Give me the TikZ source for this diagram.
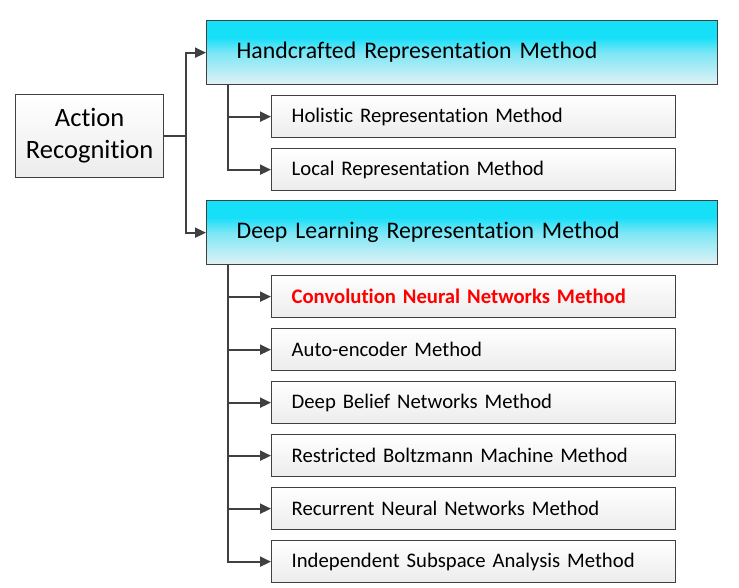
\documentclass[tikz,border=0pt]{standalone}
\usepackage{fontspec}
\setmainfont{Carlito}[Ligatures=NoCommon]
\usetikzlibrary{arrows.meta,calc}
\definecolor{edge}{HTML}{404040}
\definecolor{hdrtop}{HTML}{16DFF8}
\definecolor{hdrmid}{HTML}{7CE6F5}
\definecolor{hdrbot}{HTML}{E2F2F5}
\definecolor{subbot}{HTML}{ECECEC}
\definecolor{redtxt}{HTML}{FF0000}
\pgfdeclareverticalshading{hdrshade}{100bp}{color(0bp)=(hdrbot); color(25bp)=(hdrbot); color(50bp)=(hdrmid); color(62bp)=(hdrtop); color(75bp)=(hdrtop); color(100bp)=(hdrtop)}
\begin{document}
\begin{tikzpicture}[x=1pt,y=-1pt,
  box/.style={draw=edge,line width=1.3pt,anchor=north west,inner ysep=0pt},
  hdr/.style={box,shading=hdrshade,minimum height=64pt,inner xsep=30pt,text width=451pt,align=left,font=\fontsize{23.8}{28}\selectfont},
  sub/.style={box,top color=white,bottom color=subbot,minimum height=42pt,inner xsep=20pt,text width=364pt,align=left,font=\fontsize{20.7}{24}\selectfont},
  root/.style={box,top color=white,bottom color=subbot,minimum width=148pt,minimum height=83pt,align=center,font=\fontsize{26.5}{32}\selectfont},
  conn/.style={draw=edge,line width=2pt},
  arr/.style={conn,-{Triangle[length=11pt,width=10pt]}}]
\useasboundingbox (0,0) rectangle (739,588);
\node[root] (act) at (15,94) {Action\\Recognition};
\node[hdr] (hc) at (206,20) {Handcrafted Representation Method};
\node[sub] (hol) at (271,95) {Holistic Representation Method};
\node[sub] (loc) at (271,148) {Local Representation Method};
\node[hdr] (dl) at (206,200) {Deep Learning Representation Method};
\node[sub] (cnn) at (271,275) {\textcolor{redtxt}{\bfseries Convolution Neural Networks Method}};
\node[sub] (ae) at (271,328) {Auto-encoder Method};
\node[sub] (dbn) at (271,381) {Deep Belief Networks Method};
\node[sub] (rbm) at (271,434) {Restricted Boltzmann Machine Method};
\node[sub] (rnn) at (271,487) {Recurrent Neural Networks Method};
\node[sub] (isa) at (271,540) {Independent Subspace Analysis Method};
\coordinate (jA) at ($(act.east)+(22,0)$);
\draw[conn] (act.east) -- (jA);
\draw[arr] (jA) |- (hc.west);
\draw[arr] (jA) |- (dl.west);
\coordinate (jH) at ($(hc.south west)+(22,0)$);
\coordinate (jD) at ($(dl.south west)+(22,0)$);
\foreach \n in {hol,loc} \draw[arr] (jH) |- (\n.west);
\foreach \n in {cnn,ae,dbn,rbm,rnn,isa} \draw[arr] (jD) |- (\n.west);
\end{tikzpicture}
\end{document}
